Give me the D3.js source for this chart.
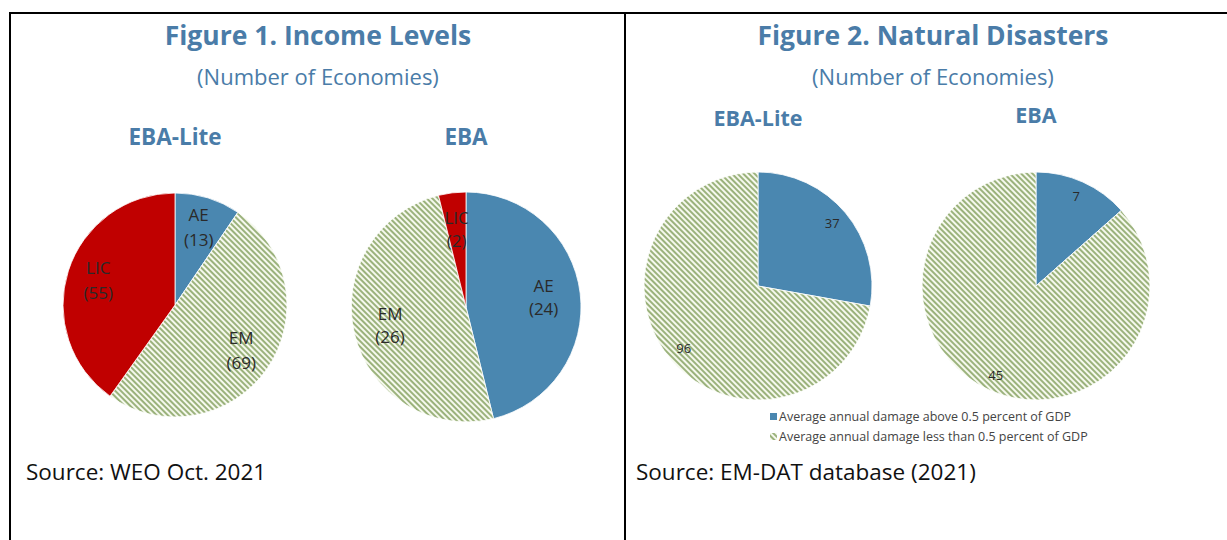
<!DOCTYPE html>
<html><head><meta charset="utf-8">
<script src="https://cdn.jsdelivr.net/npm/d3@7"></script>
<style>body{margin:0;background:#fff}svg{display:block}</style>
</head><body>
<svg id="c" width="1227" height="540"></svg>
<script>
// ---- data ----
const incomeCategories = ["AE", "EM", "LIC"];
const incomeEbaLite = [13, 69, 55];
const incomeEba = [24, 26, 2];
const disasterCategories = ["Average annual damage above 0.5 percent of GDP", "Average annual damage less than 0.5 percent of GDP"];
const disasterEbaLite = [37, 96];
const disasterEba = [7, 45];
const figureTitles = ["Figure 1. Income Levels", "Figure 2. Natural Disasters"];
const figureSubtitle = "(Number of Economies)";
const pieTitles = ["EBA-Lite", "EBA"];
const sources = ["Source: WEO Oct. 2021", "Source: EM-DAT database (2021)"];

const svg = d3.select("#c");
const FONT = "'Open Sans', 'Noto Sans', sans-serif";
const TITLE_COLOR = "#4a7ca8";
const BLUE = "#4a87b0", RED = "#c00000";

// hatch pattern
const defs = svg.append("defs");
const pat = defs.append("pattern").attr("id", "hatch").attr("patternUnits", "userSpaceOnUse")
  .attr("width", 4).attr("height", 4).attr("patternTransform", "rotate(-45)");
pat.append("rect").attr("width", 4).attr("height", 4).attr("fill", "#f6f9ee");
pat.append("rect").attr("width", 2).attr("height", 4).attr("fill", "#9bb27c");

// frame
const frame = svg.append("g").attr("stroke", "#000").attr("stroke-width", 2);
frame.append("line").attr("x1", 9).attr("x2", 1227).attr("y1", 13).attr("y2", 13);
frame.append("line").attr("x1", 10).attr("x2", 10).attr("y1", 12).attr("y2", 540);
frame.append("line").attr("x1", 625).attr("x2", 625).attr("y1", 12).attr("y2", 540);

// titles
const titleX = [318, 933];
titleX.forEach((x, i) => {
  svg.append("text").attr("x", x).attr("y", 45).attr("text-anchor", "middle")
    .attr("font-family", FONT).attr("font-weight", "bold").attr("font-size", 26.5)
    .attr("fill", TITLE_COLOR).text(figureTitles[i]);
  svg.append("text").attr("x", x).attr("y", 85).attr("text-anchor", "middle")
    .attr("font-family", FONT).attr("font-size", 22)
    .attr("fill", TITLE_COLOR).text(figureSubtitle);
});

// sources
[26, 636].forEach((x, i) => {
  svg.append("text").attr("x", x).attr("y", 480)
    .attr("font-family", FONT).attr("font-size", 22.5).attr("fill", "#111").text(sources[i]);
});

function drawPie(opts) {
  const { cx, cy, r, values, cats, fills, labelR, labelFn, fontSize, lineH, title, titleY, titleSize } = opts;
  const pie = d3.pie().sort(null).value(d => d)(values);
  const arc = d3.arc().innerRadius(0).outerRadius(r);
  const larc = d3.arc().innerRadius(labelR * r).outerRadius(labelR * r);
  const g = svg.append("g").attr("transform", `translate(${cx},${cy})`);
  g.selectAll("path").data(pie).join("path").attr("d", arc)
    .attr("fill", (d, i) => fills[i]).attr("stroke", "#fff").attr("stroke-width", 0.8);
  pie.forEach((d, i) => {
    const [x, y] = larc.centroid(d);
    const lines = labelFn(cats[i], values[i]);
    const t = g.append("text").attr("text-anchor", "middle").attr("font-family", FONT)
      .attr("font-size", fontSize).attr("fill", "#2a2a2a");
    const y0 = y - (lines.length - 1) * lineH / 2;
    lines.forEach((s, k) => t.append("tspan").attr("x", x).attr("y", y0 + k * lineH)
      .attr("dy", "0.35em").text(s));
  });
  svg.append("text").attr("x", cx).attr("y", titleY).attr("text-anchor", "middle")
    .attr("font-family", FONT).attr("font-weight", "bold").attr("font-size", titleSize)
    .attr("fill", TITLE_COLOR).text(title);
}

const incomeFills = [BLUE, "url(#hatch)", RED];
const incLabel = (c, v) => [c, `(${v})`];
drawPie({ cx: 175, cy: 305, r: 112, values: incomeEbaLite, cats: incomeCategories, fills: incomeFills,
  labelR: 0.72, labelFn: incLabel, fontSize: 17, lineH: 25, title: pieTitles[0], titleY: 145, titleSize: 22.5 });
drawPie({ cx: 466, cy: 307, r: 115, values: incomeEba, cats: incomeCategories, fills: incomeFills,
  labelR: 0.68, labelFn: incLabel, fontSize: 17, lineH: 23, title: pieTitles[1], titleY: 145, titleSize: 22.5 });

const disFills = [BLUE, "url(#hatch)"];
const disLabel = (c, v) => [String(v)];
drawPie({ cx: 758, cy: 286, r: 114, values: disasterEbaLite, cats: disasterCategories, fills: disFills,
  labelR: 0.85, labelFn: disLabel, fontSize: 13, lineH: 14, title: pieTitles[0], titleY: 126, titleSize: 21.5 });
drawPie({ cx: 1036, cy: 286, r: 114, values: disasterEba, cats: disasterCategories, fills: disFills,
  labelR: 0.86, labelFn: disLabel, fontSize: 13, lineH: 14, title: pieTitles[1], titleY: 123, titleSize: 21.5 });

// legend
const leg = svg.append("g").attr("transform", "translate(770,417)");
disasterCategories.forEach((c, i) => {
  const row = leg.append("g").attr("transform", `translate(0,${i * 20})`);
  row.append("rect").attr("x", 0).attr("y", -4).attr("width", 7).attr("height", 7).attr("fill", disFills[i]);
  row.append("text").attr("x", 9).attr("y", 0).attr("dy", "0.35em")
    .attr("font-family", FONT).attr("font-size", 12.5).attr("fill", "#444").text(c);
});
</script>
</body></html>
